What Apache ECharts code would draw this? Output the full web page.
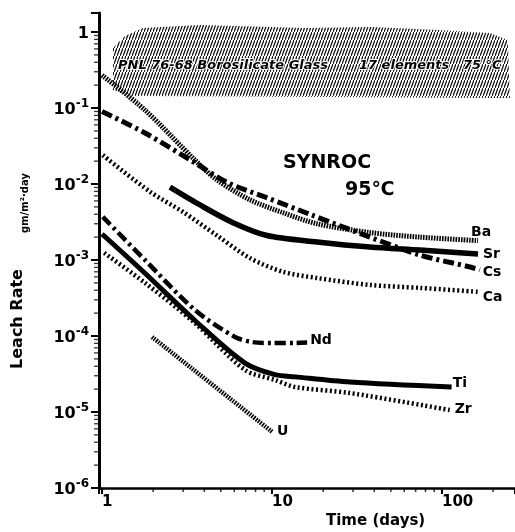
<!DOCTYPE html>
<html>
<head>
<meta charset="utf-8">
<script src="https://cdn.jsdelivr.net/npm/echarts@6/dist/echarts.min.js"></script>
<style>
  html, body { margin: 0; padding: 0; background: #fff; }
  #chart { width: 515px; height: 532px; }
</style>
</head>
<body>
<div id="chart"></div>
<script>
// leach rate (gm/m2.day) against time (days)
const baDays = [1.0, 1.79, 3.52, 4.75, 7.42, 11.6, 18.4, 37.7, 74.3, 163];
const baRate = [0.27, 0.094, 0.0207, 0.0113, 0.0062, 0.0042, 0.0030, 0.0023, 0.0020, 0.0018];

const srDays = [2.51, 3.77, 5.9, 9.35, 18.4, 37.7, 74.3, 163];
const srRate = [0.0091, 0.0053, 0.0031, 0.0021, 0.00173, 0.00148, 0.00135, 0.0012];

const csDays = [1.0, 1.79, 3.52, 5.43, 9.35, 16.7, 37.7, 74.3, 146, 167];
const csRate = [0.09, 0.047, 0.019, 0.0105, 0.0066, 0.0040, 0.0020, 0.00116, 0.00081, 0.00074];

const caDays = [1.01, 1.92, 2.99, 4.75, 7.42, 11.6, 18.4, 37.7, 74.3, 167];
const caRate = [0.024, 0.0079, 0.0043, 0.0021, 0.00106, 0.0007, 0.00058, 0.00047, 0.00043, 0.00038];

const ndDays = [1.01, 1.79, 3.52, 6.06, 7.63, 10, 13.7, 16.1];
const ndRate = [0.0037, 0.0010, 0.00022, 0.000097, 0.0000834, 0.000081, 0.000081, 0.000082];

const tiDays = [1.0, 1.79, 3.52, 6.94, 10.4, 13.7, 28.7, 114];
const tiRate = [0.0022, 0.00067, 0.00016, 0.000044, 0.000031, 0.000029, 0.0000248, 0.0000213];

const zrDays = [1.03, 1.79, 3.52, 6.94, 10.4, 13.7, 28.7, 111];
const zrRate = [0.00124, 0.0005, 0.000148, 0.0000357, 0.0000264, 0.0000213, 0.0000178, 0.0000106];

const uDays = [1.97, 10];
const uRate = [0.000097, 0.0000055];

// outline of the hatched borosilicate glass band
const bandDays = [1.16, 1.365, 1.74, 3.77, 15.6, 38.7, 94.7, 191, 244, 251, 1.52, 1.16];
const bandRate = [0.616, 0.886, 1.129, 1.236, 1.129, 1.164, 1.062, 0.97, 0.785, 0.1355, 0.144, 0.1726];

// minor tick positions
const xMinor = [2, 3, 4, 5, 6, 7, 8, 9, 20, 30, 40, 50, 60, 70, 80, 90, 200];
const yDecades = [1e-6, 1e-5, 1e-4, 1e-3, 1e-2, 1e-1];
const yMant = [2, 3, 4, 5, 6, 7, 8, 9];

const X_MIN = 0.96, X_MAX = 269, Y_MIN = 1e-6, Y_MAX = 1.78;
const FONT = 'DejaVu Sans';

function pts(xs, ys) { return xs.map((x, i) => [x, ys[i]]) }

// hatch pattern for the glass band
const hatch = document.createElement('canvas')
hatch.width = 3
hatch.height = 8
let hc = hatch.getContext('2d')
hc.strokeStyle = '#000'
hc.lineWidth = 1.2
hc.beginPath()
hc.moveTo(-0.5, 9.33)
hc.lineTo(3.5, -1.33)
hc.stroke()

const hatchLine = [1.6, 1.1]     // Ba, U
const dashLine = [2, 2.6]        // Ca, Zr
const dashDot = [11, 4, 3, 4]    // Cs, Nd

function lineSeries(name, xs, ys, width, type, offset) {
    return {
        name: name,
        type: 'line',
        data: pts(xs, ys),
        symbol: 'none',
        smooth: 0.3,
        z: 3,
        lineStyle: { color: '#000', width: width, type: type, cap: 'butt' },
        endLabel: {
            show: true, formatter: '{a}', distance: 3, offset: offset,
            fontFamily: FONT, fontWeight: 'bold', fontSize: 14, color: '#000'
        }
    }
}

const yMinorData = []
yDecades.forEach(d => yMant.forEach(m => yMinorData.push([X_MIN, d * m])))

const chart = echarts.init(document.getElementById('chart'))
chart.setOption({
    animation: false,
    backgroundColor: '#fff',
    grid: { left: 99, right: 0, top: 13, bottom: 44, outerBoundsMode: 'none' },
    xAxis: {
        type: 'log', min: X_MIN, max: X_MAX,
        axisLine: { lineStyle: { color: '#000', width: 2.5 } },
        axisTick: { length: 6, lineStyle: { color: '#000', width: 2 } },
        splitLine: { show: false },
        axisLabel: {
            margin: 7, align: 'left',
            fontFamily: FONT, fontWeight: 'bold', fontSize: 15, color: '#000',
            formatter: function (v) {
                let n = Math.round(Math.log10(v))
                if (Math.abs(Math.log10(v) - n) > 0.01) return ''
                return String(Math.round(Math.pow(10, n)))
            }
        }
    },
    yAxis: {
        type: 'log', min: Y_MIN, max: Y_MAX,
        axisLine: { lineStyle: { color: '#000', width: 3 } },
        axisTick: { length: 8, lineStyle: { color: '#000', width: 2 } },
        splitLine: { show: false },
        axisLabel: {
            margin: 10,
            formatter: function (v) {
                let n = Math.round(Math.log10(v))
                if (Math.abs(Math.log10(v) - n) > 0.01) return ''
                return n === 0 ? '{b|1}' : '{b|10}{s|' + n + '}'
            },
            rich: {
                b: { fontFamily: FONT, fontWeight: 'bold', fontSize: 16, color: '#000', lineHeight: 20, verticalAlign: 'bottom' },
                s: { fontFamily: FONT, fontWeight: 'bold', fontSize: 12, color: '#000', lineHeight: 12, verticalAlign: 'top' }
            }
        }
    },
    series: [
        {
            name: 'band',
            type: 'custom',
            z: 1,
            silent: true,
            data: [[1, 1]],
            renderItem: function (params, api) {
                return {
                    type: 'polygon',
                    shape: { points: pts(bandDays, bandRate).map(p => api.coord(p)) },
                    style: { fill: { image: hatch, repeat: 'repeat' }, stroke: null }
                }
            }
        },
        lineSeries('Ba', baDays, baRate, 5, hatchLine, [-10, -8]),
        lineSeries('Sr', srDays, srRate, 5.5, 'solid', [2, 0]),
        lineSeries('Cs', csDays, csRate, 5, dashDot, [0, 2]),
        lineSeries('Ca', caDays, caRate, 4.5, dashLine, [0, 5]),
        lineSeries('Nd', ndDays, ndRate, 4.5, dashDot, [0, -2]),
        lineSeries('Ti', tiDays, tiRate, 5, 'solid', [-2, -4]),
        lineSeries('Zr', zrDays, zrRate, 4.5, dashLine, [2, -1]),
        lineSeries('U', uDays, uRate, 4.5, hatchLine, [2, 0]),
        {
            type: 'scatter', silent: true, clip: false, z: 10,
            data: xMinor.map(x => [x, Y_MIN]),
            symbol: 'rect', symbolSize: [1.5, 4], symbolOffset: [0, 2],
            itemStyle: { color: '#000' }
        },
        {
            type: 'scatter', silent: true, clip: false, z: 10,
            data: yMinorData,
            symbol: 'rect', symbolSize: [4, 1.3], symbolOffset: [-3, 0],
            itemStyle: { color: '#000' }
        }
    ],
    graphic: [
        { type: 'text', z: 100, left: 117, top: 58,
          style: { text: 'PNL 76-68 Borosilicate Glass', font: 'italic bold 13px "DejaVu Sans"', fill: '#000', stroke: '#fff', lineWidth: 2 } },
        { type: 'text', z: 100, left: 358, top: 58,
          style: { text: '17 elements', font: 'italic bold 13px "DejaVu Sans"', fill: '#000', stroke: '#fff', lineWidth: 2 } },
        { type: 'text', z: 100, left: 462, top: 58,
          style: { text: '75 °C', font: 'italic bold 13px "DejaVu Sans"', fill: '#000', stroke: '#fff', lineWidth: 2 } },
        { type: 'text', z: 100, left: 283, top: 154,
          style: { text: 'SYNROC', font: 'bold 19px "DejaVu Sans"', fill: '#000' } },
        { type: 'text', z: 100, left: 345, top: 181,
          style: { text: '95℃', font: 'bold 19px "DejaVu Sans"', fill: '#000' } },
        { type: 'text', z: 100, left: 326, top: 514,
          style: { text: 'Time (days)', font: 'bold 15px "DejaVu Sans"', fill: '#000' } },
        { type: 'text', z: 100, x: 18, y: 319, rotation: Math.PI / 2,
          style: { text: 'Leach Rate', font: 'bold 16px "DejaVu Sans"', fill: '#000', align: 'center', verticalAlign: 'middle' } },
        { type: 'text', z: 100, x: 25, y: 203, rotation: Math.PI / 2,
          style: { text: 'gm/m²·day', font: 'bold 10px "DejaVu Sans"', fill: '#000', align: 'center', verticalAlign: 'middle' } }
    ]
})
</script>
</body>
</html>
